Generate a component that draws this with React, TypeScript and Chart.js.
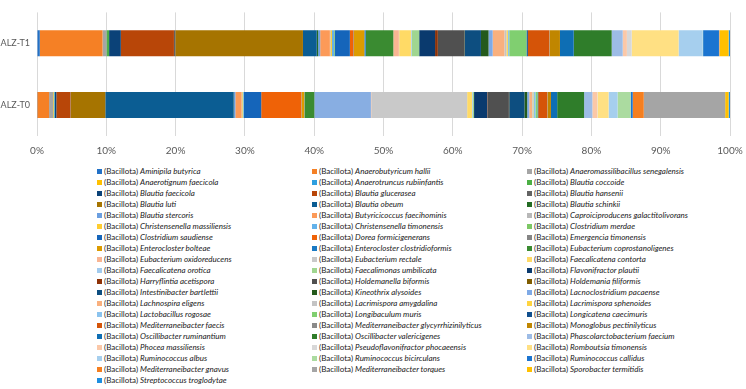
import React, { useEffect, useRef } from "react";
import { Chart, registerables } from "chart.js";

Chart.register(...registerables);

const categories = ["ALZ-T1", "ALZ-T0"];
const phylum = "(Bacillota)";

const species = [
  "Aminipila butyrica",
  "Anaerobutyricum hallii",
  "Anaeromassilibacillus senegalensis",
  "Anaerotignum faecicola",
  "Anaerotruncus rubiinfantis",
  "Blautia coccoide",
  "Blautia faecicola",
  "Blautia glucerasea",
  "Blautia hansenii",
  "Blautia luti",
  "Blautia obeum",
  "Blautia schinkii",
  "Blautia stercoris",
  "Butyricicoccus faecihominis",
  "Caproiciproducens galactitolivorans",
  "Christensenella massiliensis",
  "Christensenella timonensis",
  "Clostridium merdae",
  "Clostridium saudiense",
  "Dorea formicigenerans",
  "Emergencia timonensis",
  "Enterocloster bolteae",
  "Enterocloster clostridioformis",
  "Eubacterium coprostanoligenes",
  "Unlisted Bacillota",
  "Eubacterium oxidoreducens",
  "Eubacterium rectale",
  "Faecalicatena contorta",
  "Faecalicatena orotica",
  "Faecalimonas umbilicata",
  "Flavonifractor plautii",
  "Harryflintia acetispora",
  "Holdemanella biformis",
  "Holdemania filiformis",
  "Intestinibacter bartlettii",
  "Kineothrix alysoides",
  "Lacnoclostridium pacaense",
  "Lachnospira eligens",
  "Lacrimispora amygdalina",
  "Lacrimispora sphenoides",
  "Lactobacillus rogosae",
  "Longibaculum muris",
  "Longicatena caecimuris",
  "Mediterraneibacter faecis",
  "Mediterraneibacter glycyrrhizinilyticus",
  "Monoglobus pectinilyticus",
  "Oscillibacter ruminantium",
  "Oscillibacter valericigenes",
  "Phascolarctobacterium faecium",
  "Phocea massiliensis",
  "Pseudoflavonifractor phocaeensis",
  "Romboutsia timonensis",
  "Ruminococcus albus",
  "Ruminococcus bicirculans",
  "Ruminococcus callidus",
  "Mediterraneibacter gnavus",
  "Mediterraneibacter torques",
  "Sporobacter termitidis",
  "Streptococcus troglodytae",
];

// series not shown in the legend
const legendHidden = ["Unlisted Bacillota"];

const valuesT1 = [
  0.4, 9.1, 0.5, 0.05, 0.1, 0.3, 1.7, 7.7, 0.2, 18.5,
  2.0, 0.2, 0.3, 1.4, 0.1, 0.2, 0.3, 0.1, 2.2, 0.5,
  0.1, 1.5, 0.2, 4.0, 0, 0.8, 0.05, 1.7, 0.1, 1.1,
  2.3, 0.4, 3.8, 0.05, 2.4, 1.1, 0.6, 1.7, 0.3, 0.2,
  0.2, 2.5, 0.2, 3.1, 0.05, 1.5, 2.0, 5.5, 1.6, 0.6,
  0.7, 6.8, 3.5, 0.05, 2.3, 0.05, 0.05, 1.3, 0.2,
];

const valuesT0 = [
  0.05, 1.7, 0.6, 0.1, 0.1, 0.05, 0.2, 2.05, 0.05, 5.0,
  18.6, 0.05, 0.2, 0.9, 0.05, 0.1, 0.15, 0.05, 2.5, 5.8,
  0.05, 0.4, 0.05, 1.4, 8.2, 0.05, 13.9, 0.7, 0.1, 0.2,
  1.9, 0.05, 3.1, 0.05, 2.2, 0.4, 0.3, 0.4, 0.1, 0.1,
  0.3, 0.3, 0.1, 1.3, 0.05, 0.5, 0.9, 3.9, 1.2, 0.7,
  0.05, 1.6, 1.3, 1.9, 0.3, 1.6, 11.8, 0.5, 0.2,
];

const palette = [
  "#2271C7", "#F58025", "#A5A5A5", "#FFC000", "#2E9FE0", "#4CAF45",
  "#0B4278", "#B84608", "#636363", "#A67400", "#0B5D93", "#236B23",
  "#6B9FE0", "#FC9A58", "#B8B8B8", "#FFCD30", "#63B2EA", "#7DC865",
  "#1565BA", "#EF6207", "#858585", "#DC9B00", "#1A7AC4", "#3A8B31",
  "#88AEE2", "#F9B593", "#C9C9C9", "#FFDA66", "#A2CBEE", "#A0D690",
  "#0A3A6E", "#8E3207", "#505050", "#7F5C00", "#0D4E80", "#245A1C",
  "#7FAAE6", "#F9B07E", "#C4C4C4", "#FFD440", "#8BC3EE", "#80CF70",
  "#114F8E", "#D55408", "#8A8A8A", "#C08600", "#0E6EB4", "#2F7D2A",
  "#9DBCE6", "#FBC8A8", "#D8D8D8", "#FFE083", "#A6CFEE", "#ABDBA0",
  "#1B74D0", "#F57F20", "#A5A5A5", "#FFC000", "#1E8FE0",
];

const xTicks = [0, 10, 20, 30, 40, 50, 60, 70, 80, 90, 100];

function toPercent(vals: number[]) {
  const total = vals.reduce((a, b) => a + b, 0);
  return vals.map((v) => (v / total) * 100);
}

export default function App() {
  const canvasRef = useRef<HTMLCanvasElement | null>(null);

  useEffect(() => {
    document.body.style.margin = "0";
    const canvas = canvasRef.current;
    if (!canvas) return;
    const p1 = toPercent(valuesT1);
    const p0 = toPercent(valuesT0);
    const chart = new Chart(canvas, {
      type: "bar",
      data: {
        labels: categories,
        datasets: species.map((name, i) => ({
          label: `${phylum} ${name}`,
          data: [p1[i], p0[i]],
          backgroundColor: palette[i],
          borderWidth: 0,
          barPercentage: 0.42,
          categoryPercentage: 1,
        })),
      },
      options: {
        indexAxis: "y",
        animation: false,
        responsive: false,
        maintainAspectRatio: false,
        layout: { padding: { top: 5, right: 16, bottom: 0, left: 0 } },
        plugins: { legend: { display: false }, tooltip: { enabled: false } },
        scales: {
          x: {
            stacked: true,
            min: 0,
            max: 100,
            afterBuildTicks: (scale: any) => {
              scale.ticks = xTicks.map((v) => ({ value: v }));
            },
            ticks: {
              callback: (v: any) => `${v}%`,
              color: "#595959",
              font: { size: 10, family: "Lato" },
              padding: 9,
            },
            grid: { color: "#D9D9D9", drawTicks: false },
            border: { display: false },
            afterFit: (scale: any) => {
              scale.height = 24;
              scale.paddingRight = 0;
              scale.paddingLeft = 0;
            },
          },
          y: {
            stacked: true,
            ticks: {
              color: "#595959",
              font: { size: 9, family: "Lato" },
              padding: 7,
            },
            grid: { display: false, drawTicks: false },
            border: { display: false },
            afterFit: (scale: any) => {
              scale.width = 37;
            },
          },
        },
      },
    });
    return () => chart.destroy();
  }, []);

  const visible = species
    .map((name, i) => ({ name, color: palette[i] }))
    .filter((s) => !legendHidden.includes(s.name));

  return (
    <div style={{ position: "relative", width: 746, height: 389, background: "#fff", overflow: "hidden" }}>
      <canvas ref={canvasRef} width={746} height={160} style={{ display: "block" }} />
      <div
        style={{
          position: "absolute",
          top: 166,
          left: 97,
          display: "grid",
          gridTemplateColumns: "215px 215px 215px",
          gridAutoRows: "11px",
          fontFamily: "Lato, 'Noto Sans', sans-serif",
          fontSize: 8,
          color: "#1a1a1a",
          lineHeight: "11px",
        }}
      >
        {visible.map((s) => (
          <div key={s.name} style={{ display: "flex", alignItems: "center", whiteSpace: "nowrap" }}>
            <span style={{ width: 5, height: 5, background: s.color, marginRight: 2, flex: "none" }} />
            <span>
              {phylum} <i>{s.name}</i>
            </span>
          </div>
        ))}
      </div>
    </div>
  );
}
